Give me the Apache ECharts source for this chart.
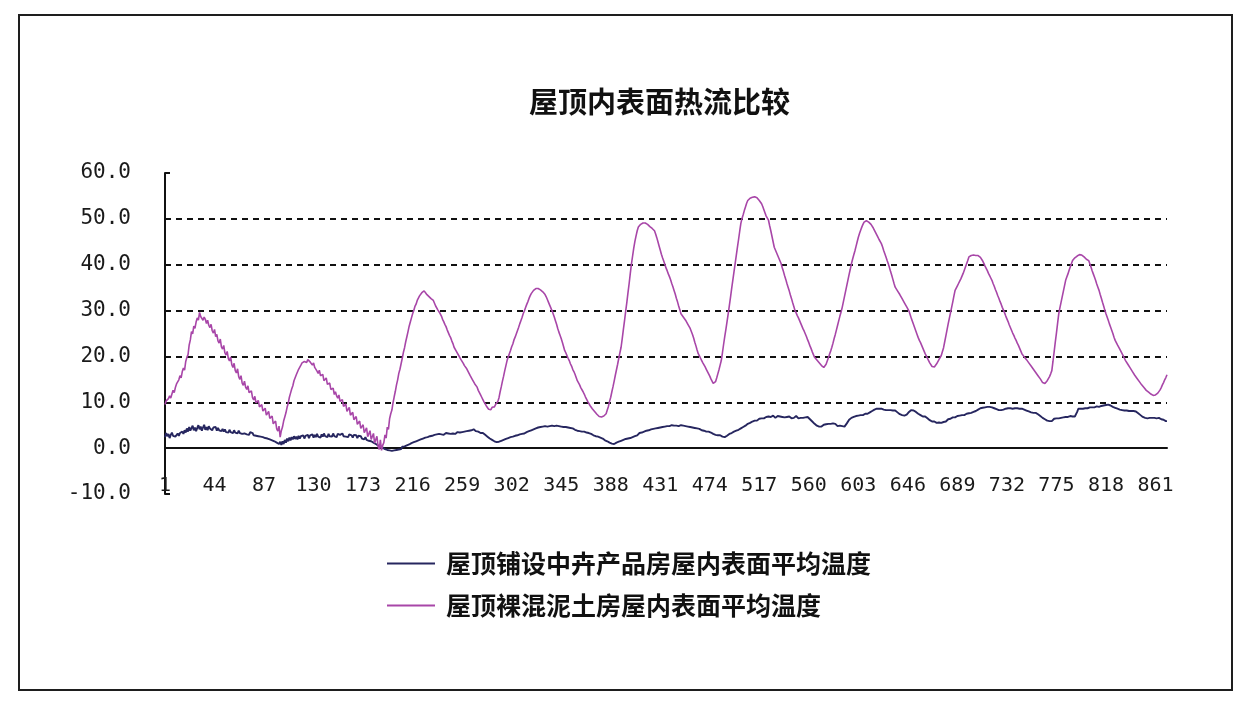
<!DOCTYPE html>
<html>
<head>
<meta charset="utf-8">
<title>屋顶内表面热流比较</title>
<script src="https://cdn.jsdelivr.net/npm/echarts@6/dist/echarts.min.js"></script>
<style>
  html, body { margin: 0; padding: 0; background: #ffffff; }
  #chart { width: 1252px; height: 706px; }
</style>
</head>
<body>
<div id="chart"></div>
<script>
// Chart title and series names
const chartTitle = '屋顶内表面热流比较';
const seriesNames = ['屋顶铺设中卉产品房屋内表面平均温度', '屋顶裸混泥土房屋内表面平均温度'];

// Y axis range
const yMin = -10;
const yMax = 60;
const yStep = 10;

// Insulated roof: inner surface average temperature (one value per record)
const insulatedRoof = [
  2.4, 3.3, 2.6, 3.1, 2.2, 2.9, 3.4, 2.7, 3.0, 2.5,
  2.8, 3.2, 2.7, 3.3, 2.9, 3.6, 3.1, 3.9, 3.4, 4.3,
  3.6, 4.6, 3.8, 4.2, 4.9, 3.9, 4.5, 3.7, 4.4, 5.0,
  4.1, 4.7, 3.8, 4.5, 5.1, 4.0, 4.6, 3.9, 4.8, 4.3,
  4.7, 3.9, 4.5, 4.1, 4.6, 3.8, 4.4, 3.9, 4.3, 3.7,
  4.2, 3.6, 4.1, 3.5, 3.9, 3.4, 4.0, 3.5, 3.8, 3.3,
  3.9, 3.4, 3.7, 3.2, 3.8, 3.3, 3.6, 3.1, 3.5, 3.2,
  3.6, 3.0, 3.4, 2.9, 3.5, 3.1, 3.3, 2.8, 3.2, 2.7,
  3.1, 2.6, 3.0, 2.5, 2.9, 2.4, 2.8, 2.2, 2.6, 2.1,
  2.5, 1.9, 2.3, 1.7, 2.1, 1.5, 1.9, 1.2, 1.6, 0.9,
  1.4, 0.7, 1.5, 0.9, 1.8, 1.2, 2.1, 1.5, 2.3, 1.7,
  2.4, 1.9, 2.6, 2.0, 2.5, 1.9, 2.7, 2.1, 2.6, 2.2,
  2.8, 2.1, 2.7, 2.3, 2.9, 2.2, 2.8, 2.4, 3.0, 2.3,
  2.9, 2.4, 3.1, 2.5, 2.9, 2.3, 3.0, 2.5, 3.2, 2.6,
  3.0, 2.4, 3.1, 2.6, 2.9, 2.5, 3.2, 2.6, 3.0, 2.4,
  3.1, 2.7, 2.9, 2.5, 3.2, 2.6, 3.0, 2.5, 2.9, 2.4,
  3.0, 2.6, 2.8, 2.3, 2.9, 2.5, 2.8, 2.2, 2.7, 2.4,
  2.6, 2.1, 2.5, 1.9, 2.4, 1.8, 2.2, 1.6, 2.0, 1.5,
  1.7, 1.2, 1.5, 0.9, 1.2, 0.6, 0.9, 0.4, 0.6, 0.1,
  0.3, -0.2, 0.1, -0.4, -0.1, -0.5, -0.2, -0.6, -0.3, -0.5,
  -0.1, -0.4, 0.0, -0.3, 0.1, -0.2, 0.3, 0.0, 0.4, 0.2,
  0.6, 0.4, 0.8, 0.7, 1.1, 0.9, 1.3, 1.2, 1.5, 1.4,
  1.7, 1.6, 1.9, 1.8, 2.1, 2.0, 2.3, 2.1, 2.4, 2.3,
  2.6, 2.4, 2.7, 2.6, 2.9, 2.7, 3.0, 2.8, 3.1, 3.1,
  3.0, 3.2, 2.9, 3.1, 3.3, 3.0, 3.2, 3.4, 3.1, 3.3,
  3.2, 3.4, 3.1, 3.3, 3.5, 3.2, 3.4, 3.2, 3.5, 3.3,
  3.6, 3.4, 3.7, 3.5, 3.8, 3.6, 3.9, 3.7, 4.1, 3.8,
  3.7, 3.5, 3.6, 3.4, 3.3, 3.2, 3.3, 3.1, 2.9, 2.7,
  2.5, 2.3, 2.1, 2.0, 1.8, 1.6, 1.5, 1.4, 1.3, 1.2,
  1.4, 1.3, 1.6, 1.5, 1.8, 1.7, 2.0, 1.9, 2.2, 2.1,
  2.4, 2.2, 2.5, 2.3, 2.7, 2.5, 2.8, 2.6, 3.0, 2.8,
  3.1, 2.9, 3.2, 3.1, 3.5, 3.3, 3.7, 3.5, 3.9, 3.7,
  4.1, 3.9, 4.3, 4.1, 4.5, 4.2, 4.6, 4.4, 4.7, 4.5,
  4.8, 4.5, 4.7, 4.4, 4.8, 4.6, 4.9, 4.5, 4.8, 4.6,
  4.9, 4.6, 4.8, 4.5, 4.7, 4.4, 4.6, 4.3, 4.6, 4.4,
  4.5, 4.2, 4.4, 4.1, 4.3, 4.2, 4.0, 4.1, 3.8, 3.9,
  3.7, 3.8, 3.6, 3.5, 3.6, 3.3, 3.4, 3.2, 3.3, 3.1,
  3.1, 2.9, 2.8, 2.7, 2.6, 2.4, 2.5, 2.2, 2.3, 2.0,
  2.1, 1.9, 1.7, 1.8, 1.5, 1.4, 1.2, 1.3, 1.0, 1.1,
  0.9, 1.0, 1.2, 1.1, 1.4, 1.3, 1.6, 1.5, 1.8, 1.7,
  2.0, 1.9, 2.1, 2.3, 2.2, 2.5, 2.4, 2.7, 2.6, 2.9,
  2.8, 3.1, 3.3, 3.5, 3.4, 3.7, 3.6, 3.9, 3.8, 4.0,
  3.9, 4.2, 4.1, 4.3, 4.2, 4.4, 4.3, 4.5, 4.4, 4.6,
  4.5, 4.7, 4.6, 4.8, 4.7, 4.9, 4.8, 5.0, 4.8, 4.9,
  5.0, 4.8, 4.9, 5.1, 4.9, 5.0, 4.8, 4.9, 5.0, 4.8,
  4.9, 4.7, 4.8, 4.6, 4.7, 4.5, 4.6, 4.4, 4.5, 4.3,
  4.4, 4.2, 4.3, 4.1, 4.2, 4.0, 3.9, 4.0, 3.8, 3.7,
  3.6, 3.5, 3.6, 3.3, 3.4, 3.2, 3.1, 3.2, 2.9, 3.0,
  2.8, 2.7, 2.8, 2.6, 2.5, 2.6, 2.4, 2.5, 2.7, 2.9,
  3.1, 3.0, 3.3, 3.4, 3.6, 3.5, 3.8, 3.9, 4.0, 4.2,
  4.3, 4.5, 4.6, 4.8, 4.9, 5.1, 5.3, 5.2, 5.5, 5.6,
  5.8, 5.7, 6.0, 6.1, 6.0, 6.2, 6.4, 6.3, 6.5, 6.6,
  6.5, 6.7, 6.8, 6.9, 6.9, 7.0, 6.8, 6.9, 7.1, 6.8,
  6.6, 6.8, 7.0, 6.7, 6.9, 6.6, 6.8, 7.1, 6.7, 6.5,
  6.8, 6.6, 6.9, 6.7, 6.5, 6.8, 6.6, 6.9, 7.0, 6.7,
  6.5, 6.8, 6.6, 6.9, 6.6, 6.4, 6.7, 6.5, 6.8, 6.6,
  6.3, 6.0, 5.8, 5.5, 5.3, 5.1, 4.9, 4.8, 4.7, 4.8,
  4.7, 4.9, 5.1, 5.0, 5.2, 5.4, 5.3, 5.1, 5.3, 5.2,
  5.4, 5.3, 5.3, 5.0, 4.8, 4.7, 4.9, 4.6, 4.8, 4.7,
  4.7, 5.0, 5.4, 5.8, 6.2, 6.4, 6.6, 6.5, 6.8, 6.9,
  7.0, 7.1, 7.1, 7.0, 7.2, 7.3, 7.2, 7.4, 7.5, 7.4,
  7.5, 7.6, 7.8, 7.9, 8.1, 8.3, 8.4, 8.5, 8.6, 8.6,
  8.6, 8.5, 8.6, 8.5, 8.4, 8.4, 8.3, 8.4, 8.3, 8.2,
  8.3, 8.2, 8.2, 8.3, 8.2, 8.0, 7.8, 7.6, 7.4, 7.3,
  7.2, 7.1, 7.1, 7.1, 7.3, 7.6, 7.9, 8.1, 8.3, 8.2,
  8.2, 8.1, 7.9, 7.7, 7.5, 7.3, 7.2, 7.0, 6.9, 6.9,
  6.9, 6.7, 6.5, 6.3, 6.1, 6.0, 5.8, 5.7, 5.8, 5.6,
  5.5, 5.2, 5.6, 5.4, 5.5, 5.5, 5.7, 6.0, 5.8, 6.1,
  6.3, 6.5, 6.4, 6.6, 6.7, 6.8, 6.7, 6.9, 7.0, 6.9,
  7.1, 7.0, 7.2, 7.3, 7.2, 7.4, 7.5, 7.4, 7.6, 7.7,
  7.7, 7.8, 7.9, 8.0, 8.1, 8.3, 8.4, 8.6, 8.7, 8.8,
  8.8, 8.9, 8.9, 9.0, 9.0, 9.0, 9.0, 8.9, 8.9, 8.8,
  8.7, 8.6, 8.5, 8.4, 8.3, 8.3, 8.3, 8.3, 8.4, 8.5,
  8.6, 8.6, 8.7, 8.7, 8.7, 8.6, 8.6, 8.6, 8.7, 8.7,
  8.7, 8.6, 8.6, 8.6, 8.6, 8.5, 8.4, 8.3, 8.2, 8.1,
  8.0, 7.9, 7.8, 7.8, 7.7, 7.7, 7.7, 7.6, 7.4, 7.2,
  7.0, 6.8, 6.6, 6.5, 6.3, 6.2, 6.0, 6.1, 5.9, 5.6,
  5.9, 6.2, 6.4, 6.3, 6.5, 6.6, 6.5, 6.7, 6.6, 6.8,
  6.7, 6.8, 6.8, 6.9, 6.8, 6.9, 7.0, 6.9, 6.9, 7.0,
  6.9, 6.9, 7.9, 8.6, 8.5, 8.6, 8.5, 8.6, 8.7, 8.7,
  8.8, 8.7, 8.8, 8.9, 8.8, 8.9, 9.0, 8.9, 9.0, 9.1,
  9.0, 9.0, 9.1, 9.2, 9.2, 9.3, 9.3, 9.4, 9.4, 9.5,
  9.4, 9.3, 9.1, 9.0, 8.9, 8.8, 8.7, 8.6, 8.5, 8.4,
  8.3, 8.3, 8.3, 8.2, 8.3, 8.2, 8.2, 8.1, 8.2, 8.1,
  8.0, 8.1, 8.0, 8.0, 7.8, 7.6, 7.4, 7.2, 7.0, 6.8,
  6.7, 6.6, 6.6, 6.5, 6.6, 6.6, 6.5, 6.6, 6.7, 6.6,
  6.6, 6.5, 6.6, 6.6, 6.4, 6.3, 6.1, 6.2, 6.0, 5.9, 5.9
];

// Bare concrete roof: inner surface average temperature (one value per record)
const bareRoof = [
  9.5, 10.3, 10.0, 10.8, 11.4, 10.9, 11.8, 12.6, 12.1, 13.2,
  14.0, 13.6, 14.9, 15.8, 15.3, 16.7, 17.5, 17.0, 18.9, 19.8,
  20.4, 22.5, 23.6, 25.4, 24.9, 26.6, 26.1, 27.5, 28.4, 27.9,
  29.6, 28.7, 28.9, 27.9, 28.6, 28.1, 27.2, 27.9, 26.8, 26.3,
  27.0, 25.6, 25.1, 25.9, 24.3, 24.8, 23.4, 22.9, 23.8, 22.1,
  21.6, 22.4, 20.8, 20.3, 21.1, 19.5, 19.0, 19.9, 18.2, 17.6,
  18.5, 16.9, 16.4, 17.3, 15.6, 15.0, 15.8, 14.2, 13.7, 14.6,
  13.3, 12.8, 13.6, 12.1, 11.7, 12.5, 11.0, 10.5, 11.3, 9.9,
  9.6, 10.4, 9.0, 8.7, 9.5, 8.1, 7.8, 8.7, 7.2, 7.5,
  8.0, 6.5, 6.1, 7.0, 5.3, 4.9, 5.9, 4.2, 3.7, 4.8,
  2.4, 3.8, 4.6, 5.9, 6.8, 7.7, 8.9, 9.8, 11.1, 12.0,
  12.9, 13.6, 14.7, 15.1, 16.0, 16.4, 17.2, 17.5, 18.1, 18.6,
  18.3, 18.9, 19.2, 18.7, 19.3, 19.6, 18.8, 19.2, 18.1, 18.6,
  17.6, 17.9, 16.8, 16.3, 17.0, 15.8, 15.4, 16.1, 14.7, 14.9,
  15.3, 13.9, 13.5, 14.2, 12.8, 12.4, 13.1, 11.7, 12.3, 11.4,
  10.9, 11.6, 10.2, 9.8, 10.6, 9.1, 8.7, 9.6, 8.0, 8.4,
  8.9, 7.2, 6.9, 7.8, 6.2, 5.8, 6.9, 5.2, 4.9, 5.9,
  4.3, 3.9, 5.1, 3.4, 3.0, 4.4, 2.5, 2.2, 3.8, 1.9,
  1.5, 3.2, 1.1, 0.7, 2.6, 0.4, -0.3, 1.8, -0.5, 0.6,
  1.2, 2.9, 2.2, 4.6, 4.1, 6.4, 7.5, 8.3, 9.9, 11.2,
  12.4, 13.8, 14.9, 16.3, 17.2, 18.4, 19.6, 20.9, 21.9, 23.2,
  24.3, 25.4, 26.6, 27.5, 28.4, 29.3, 30.0, 30.9, 31.4, 32.2,
  32.7, 33.2, 33.5, 33.9, 34.1, 34.3, 34.0, 33.6, 33.4, 33.1,
  32.8, 32.6, 32.5, 32.2, 31.6, 31.0, 30.6, 30.1, 29.7, 29.3,
  28.8, 28.1, 27.6, 27.0, 26.5, 25.8, 25.2, 24.6, 24.1, 23.4,
  22.8, 22.0, 21.6, 21.1, 20.8, 20.2, 19.9, 19.3, 18.9, 18.5,
  18.0, 17.6, 17.3, 16.9, 16.3, 15.8, 15.4, 14.9, 14.5, 14.0,
  13.6, 13.3, 12.6, 12.2, 11.6, 11.1, 10.6, 10.1, 9.7, 9.2,
  8.9, 8.5, 8.8, 8.4, 8.9, 9.2, 9.0, 9.5, 9.7, 10.2,
  11.0, 12.3, 13.4, 14.6, 15.7, 16.9, 18.0, 19.1, 19.9, 20.6,
  21.3, 22.1, 22.7, 23.6, 24.2, 24.9, 25.6, 26.3, 27.1, 27.8,
  28.5, 29.3, 29.9, 30.6, 31.3, 31.9, 32.6, 33.2, 33.7, 34.1,
  34.4, 34.6, 34.8, 34.9, 34.8, 34.7, 34.5, 34.4, 34.1, 33.9,
  33.5, 33.0, 32.4, 31.8, 31.2, 30.6, 30.0, 29.3, 28.6, 27.8,
  27.0, 26.1, 25.3, 24.6, 23.9, 23.1, 22.2, 21.3, 20.8, 20.2,
  19.6, 19.1, 18.4, 17.9, 17.2, 16.7, 16.1, 15.4, 14.7, 14.3,
  13.8, 13.2, 12.8, 12.3, 11.8, 11.2, 10.8, 10.2, 9.8, 9.3,
  8.9, 8.6, 8.2, 8.0, 7.6, 7.4, 7.0, 6.9, 6.5, 6.8,
  6.4, 7.0, 6.6, 7.5, 8.3, 9.1, 10.2, 11.1, 12.3, 13.4,
  14.6, 15.9, 17.1, 18.3, 19.6, 20.8, 22.0, 23.9, 25.9, 27.8,
  29.9, 31.8, 33.9, 35.9, 38.1, 40.2, 41.9, 43.6, 45.1, 46.3,
  47.4, 48.2, 48.6, 48.8, 48.9, 49.1, 49.0, 49.1, 49.0, 48.8,
  48.6, 48.3, 48.1, 47.9, 47.7, 47.4, 46.7, 45.9, 45.0, 44.1,
  43.2, 42.3, 41.5, 40.8, 40.1, 39.3, 38.7, 38.0, 37.4, 36.7,
  35.9, 35.2, 34.4, 33.6, 32.7, 31.9, 31.0, 30.2, 29.3, 28.9,
  28.6, 28.2, 27.9, 27.5, 27.0, 26.6, 26.1, 25.7, 24.8, 24.0,
  23.1, 22.3, 21.4, 20.6, 20.1, 19.6, 19.1, 18.6, 18.2, 17.7,
  17.2, 16.7, 16.2, 15.7, 15.1, 14.6, 14.1, 13.8, 14.5, 15.3,
  16.2, 17.1, 18.1, 19.1, 20.8, 22.6, 24.3, 25.9, 27.6, 29.3,
  31.1, 32.9, 34.8, 36.6, 38.4, 40.2, 42.0, 43.8, 45.5, 47.3,
  49.0, 50.1, 50.9, 51.8, 52.6, 53.4, 54.0, 54.3, 54.5, 54.6,
  54.7, 54.8, 54.8, 54.7, 54.6, 54.3, 54.0, 53.7, 53.3, 52.7,
  52.0, 51.3, 50.6, 50.2, 49.7, 48.5, 47.4, 46.2, 45.0, 43.8,
  43.2, 42.6, 42.0, 41.4, 40.8, 40.2, 39.3, 38.5, 37.6, 36.8,
  35.9, 35.1, 34.3, 33.4, 32.6, 31.7, 30.9, 30.0, 29.5, 28.9,
  28.4, 27.8, 27.2, 26.6, 26.0, 25.5, 24.9, 24.3, 23.6, 23.0,
  22.3, 21.7, 21.0, 20.4, 19.8, 19.5, 19.2, 18.9, 18.6, 18.3,
  18.0, 17.8, 17.6, 17.8, 18.3, 19.0, 19.7, 20.5, 21.2, 22.0,
  22.9, 23.9, 24.8, 25.8, 26.8, 27.8, 28.8, 29.7, 30.7, 31.9,
  33.1, 34.3, 35.5, 36.7, 37.9, 39.0, 40.2, 41.2, 42.1, 43.0,
  44.0, 45.0, 46.0, 46.8, 47.5, 48.2, 48.8, 49.3, 49.7, 49.6,
  49.5, 49.3, 49.1, 48.8, 48.4, 48.0, 47.5, 47.0, 46.5, 46.0,
  45.5, 45.1, 44.6, 43.9, 43.1, 42.4, 41.7, 40.9, 40.2, 39.4,
  38.5, 37.7, 36.8, 35.9, 35.1, 34.7, 34.3, 33.9, 33.5, 33.1,
  32.6, 32.2, 31.7, 31.3, 30.8, 30.4, 29.9, 29.1, 28.3, 27.6,
  26.9, 26.2, 25.5, 24.8, 24.1, 23.5, 23.0, 22.4, 21.8, 21.2,
  20.6, 20.1, 19.6, 19.1, 18.6, 18.2, 17.8, 17.6, 17.7, 18.0,
  18.4, 18.8, 19.3, 19.7, 20.2, 20.6, 21.9, 23.2, 24.5, 25.8,
  27.1, 28.3, 29.5, 30.7, 31.9, 33.2, 34.4, 34.9, 35.4, 35.9,
  36.4, 36.9, 37.3, 38.1, 38.8, 39.5, 40.2, 40.9, 41.7, 41.9,
  42.0, 42.1, 42.1, 42.1, 42.0, 42.1, 42.0, 41.8, 41.6, 41.3,
  40.8, 40.3, 39.7, 39.2, 38.7, 38.1, 37.6, 37.1, 36.6, 35.9,
  35.3, 34.6, 34.0, 33.3, 32.7, 32.0, 31.4, 30.7, 30.1, 29.5,
  28.8, 28.2, 27.6, 26.9, 26.3, 25.7, 25.1, 24.6, 24.0, 23.5,
  22.9, 22.4, 21.8, 21.2, 20.6, 20.3, 19.9, 19.6, 19.3, 18.9,
  18.6, 18.2, 17.9, 17.6, 17.2, 16.9, 16.5, 16.2, 15.8, 15.5,
  15.1, 14.7, 14.3, 14.0, 14.1, 14.3, 14.7, 15.1, 15.6, 16.2,
  16.9, 18.9, 21.0, 23.1, 25.1, 27.2, 29.3, 30.6, 31.8, 33.0,
  34.2, 35.4, 36.6, 37.3, 38.0, 38.8, 39.5, 40.2, 40.9, 41.2,
  41.5, 41.7, 41.9, 42.1, 42.2, 42.2, 42.1, 41.9, 41.7, 41.4,
  41.2, 41.1, 40.9, 40.2, 39.5, 38.7, 38.0, 37.3, 36.6, 35.8,
  35.1, 34.4, 33.5, 32.7, 31.8, 31.0, 30.1, 29.3, 28.6, 27.9,
  27.1, 26.4, 25.7, 25.0, 24.2, 23.5, 23.0, 22.5, 22.1, 21.6,
  21.1, 20.6, 20.1, 19.6, 19.1, 18.7, 18.3, 17.9, 17.5, 17.1,
  16.7, 16.3, 15.9, 15.5, 15.2, 14.8, 14.5, 14.2, 13.8, 13.5,
  13.2, 12.9, 12.6, 12.4, 12.2, 12.0, 11.8, 11.6, 11.5, 11.5,
  11.6, 11.8, 12.0, 12.2, 12.7, 13.2, 13.8, 14.3, 14.9, 15.4, 16.0
];

// Record numbers along the horizontal axis (1, 2, 3, ...)
const recordNumbers = insulatedRoof.map((_, i) => String(i + 1));

const navyColor = '#26265f';
const violetColor = '#a846a8';
const monoFont = '"DejaVu Sans Mono", "Liberation Mono", monospace';
const cjkFont = '"Noto Sans CJK SC", "Noto Sans", sans-serif';

const chart = echarts.init(document.getElementById('chart'), null, { renderer: 'canvas' });

chart.setOption({
  backgroundColor: '#ffffff',
  animation: false,
  title: {
    text: chartTitle,
    left: 524,
    top: 82,
    textStyle: {
      fontFamily: cjkFont,
      fontSize: 29,
      fontWeight: 'bold',
      color: '#111111'
    }
  },
  legend: {
    orient: 'vertical',
    left: 382,
    top: 546,
    itemWidth: 48,
    itemHeight: 2,
    itemGap: 17,
    icon: 'rect',
    data: seriesNames,
    textStyle: {
      fontFamily: cjkFont,
      fontSize: 25,
      fontWeight: 'bold',
      color: '#111111',
      padding: [0, 0, 0, 6]
    }
  },
  grid: {
    left: 165,
    right: 85,
    top: 173,
    bottom: 212,
    containLabel: false
  },
  xAxis: {
    type: 'category',
    data: recordNumbers,
    boundaryGap: false,
    axisLine: {
      show: true,
      onZero: true,
      lineStyle: { color: '#111111', width: 2 }
    },
    axisTick: { show: false },
    axisLabel: {
      interval: 42,
      margin: -18,
      fontFamily: monoFont,
      fontSize: 20,
      color: '#1a1a1a'
    },
    splitLine: { show: false }
  },
  yAxis: {
    type: 'value',
    min: yMin,
    max: yMax,
    interval: yStep,
    axisLine: {
      show: true,
      lineStyle: { color: '#111111', width: 2 }
    },
    axisTick: {
      show: true,
      inside: true,
      length: 5,
      lineStyle: { color: '#111111', width: 2 }
    },
    axisLabel: {
      margin: 34,
      fontFamily: monoFont,
      fontSize: 21,
      color: '#1a1a1a',
      formatter: (v) => v.toFixed(1)
    },
    splitLine: {
      show: true,
      showMinLine: false,
      showMaxLine: false,
      lineStyle: { color: '#111111', width: 2, type: [6, 5] }
    }
  },
  series: [
    {
      name: seriesNames[0],
      type: 'line',
      data: insulatedRoof,
      showSymbol: false,
      symbol: 'none',
      z: 3,
      lineStyle: { color: navyColor, width: 1.9 },
      itemStyle: { color: navyColor }
    },
    {
      name: seriesNames[1],
      type: 'line',
      data: bareRoof,
      showSymbol: false,
      symbol: 'none',
      z: 4,
      lineStyle: { color: violetColor, width: 1.6 },
      itemStyle: { color: violetColor }
    }
  ],
  graphic: [
    {
      type: 'rect',
      shape: { x: 19, y: 15, width: 1213, height: 675 },
      style: { fill: 'none', stroke: '#1e1e1e', lineWidth: 2 },
      silent: true
    }
  ]
});
</script>
</body>
</html>
